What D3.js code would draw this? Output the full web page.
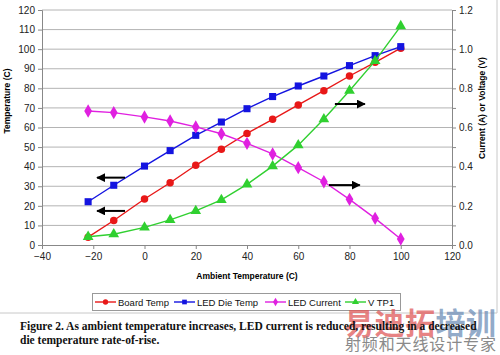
<!DOCTYPE html>
<html><head><meta charset="utf-8">
<script src="https://cdn.jsdelivr.net/npm/d3@7"></script>
<style>body{margin:0;background:#fff}svg{display:block}</style>
</head><body>
<script>
const ambient = [-22, -12, 0, 10, 20, 30, 40, 50, 60, 70, 80, 90, 100];
const boardTemp = [4, 12.5, 23.5, 31.8, 40.7, 48.9, 57, 64.2, 71.5, 78.8, 86.3, 93.3, 100.5];
const ledDieTemp = [22.1, 30.5, 40.3, 48.2, 56, 62.8, 69.6, 75.8, 81.2, 86.3, 91.6, 96.7, 101.3];
const ledCurrent = [0.684, 0.676, 0.654, 0.633, 0.603, 0.568, 0.519, 0.465, 0.395, 0.323, 0.233, 0.136, 0.031];
const vTP1 = [0.042, 0.055, 0.09, 0.128, 0.174, 0.23, 0.31, 0.403, 0.51, 0.643, 0.788, 0.94, 1.118];
const xTicks = [-40, -20, 0, 20, 40, 60, 80, 100, 120];
const yLeftTicks = [0, 10, 20, 30, 40, 50, 60, 70, 80, 90, 100, 110, 120];
const yRightTicks = [0, 0.2, 0.4, 0.6, 0.8, 1.0, 1.2];
const seriesNames = ["Board Temp", "LED Die Temp", "LED Current", "V TP1"];
// arrow annotations: [x1, x2, y] in ambient / left-axis units
const arrows = [[-7.6, -18.5, 34.4], [-7.6, -18.5, 17.4], [74.3, 86, 72], [72, 84, 30.6]];

const W = 500, H = 355;
const svg = d3.select("body").append("svg").attr("width", W).attr("height", H);
const L = 42, R = 452, T = 10, B = 245;
const x = d3.scaleLinear().domain([-40, 120]).range([L, R]);
const yL = d3.scaleLinear().domain([0, 120]).range([B, T]);
const yR = d3.scaleLinear().domain([0, 1.2]).range([B, T]);
const font = "Arial, 'Liberation Sans', sans-serif";

// frame lines
svg.append("line").attr("x1", 497).attr("x2", 497).attr("y1", 0).attr("y2", 313).attr("stroke", "#c8c8c8");
svg.append("line").attr("x1", 0).attr("x2", 497).attr("y1", 313).attr("y2", 313).attr("stroke", "#c8c8c8");

// gridlines
svg.append("g").selectAll("line").data(yLeftTicks.slice(1)).join("line")
  .attr("x1", L).attr("x2", R).attr("y1", d => yL(d)).attr("y2", d => yL(d))
  .attr("stroke", "#b4b4b4").attr("stroke-width", 1);

// axes
const gx = svg.append("g").attr("transform", `translate(0,${B})`)
  .call(d3.axisBottom(x).tickValues(xTicks).tickSize(4).tickPadding(4));
const gyl = svg.append("g").attr("transform", `translate(${L},0)`)
  .call(d3.axisLeft(yL).tickValues(yLeftTicks).tickSize(4).tickPadding(3));
const gyr = svg.append("g").attr("transform", `translate(${R},0)`)
  .call(d3.axisRight(yR).tickValues(d3.range(0, 13).map(i => i / 10)).tickSize(4).tickPadding(3)
    .tickFormat(d => yRightTicks.some(t => Math.abs(t - d) < 1e-9) ? d3.format(".1f")(d) : ""));
[gx, gyl, gyr].forEach(g => {
  g.select(".domain").attr("stroke", "#888");
  g.selectAll(".tick line").attr("stroke", "#888");
  g.selectAll("text").attr("font-family", font).attr("font-size", 10).attr("fill", "#222");
});

// axis titles
svg.append("text").attr("x", 247).attr("y", 279).attr("text-anchor", "middle")
  .attr("font-family", font).attr("font-size", 8.5).attr("font-weight", "bold").text("Ambient Temperature (C)");
svg.append("text").attr("transform", "translate(10,101) rotate(-90)").attr("text-anchor", "middle")
  .attr("font-family", font).attr("font-size", 8.5).attr("font-weight", "bold").text("Temperature (C)");
svg.append("text").attr("transform", "translate(485,108) rotate(-90)").attr("text-anchor", "middle")
  .attr("font-family", font).attr("font-size", 8.5).attr("font-weight", "bold").text("Current (A) or Voltage (V)");

const series = [
  {name: seriesNames[0], vals: boardTemp, y: yL, color: "#e81818", shape: d3.symbolCircle, size: 44},
  {name: seriesNames[1], vals: ledDieTemp, y: yL, color: "#1414e0", shape: d3.symbolSquare, size: 50},
  {name: seriesNames[2], vals: ledCurrent, y: yR, color: "#e020e0", shape: d3.symbolDiamond, size: 52},
  {name: seriesNames[3], vals: vTP1, y: yR, color: "#30d030", shape: d3.symbolTriangle, size: 50}
];

series.forEach(s => {
  const pts = ambient.map((a, i) => [x(a), s.y(s.vals[i])]);
  svg.append("path").attr("d", d3.line()(pts)).attr("fill", "none")
    .attr("stroke", s.color).attr("stroke-width", 1.4);
  svg.append("g").selectAll("path").data(pts).join("path")
    .attr("transform", d => `translate(${d[0]},${d[1]})`)
    .attr("d", d3.symbol().type(s.shape).size(s.size)).attr("fill", s.color);
});

// arrows
const defs = svg.append("defs");
defs.append("marker").attr("id", "ah").attr("viewBox", "0 0 10 10").attr("refX", 9).attr("refY", 5)
  .attr("markerWidth", 4.5).attr("markerHeight", 4.5).attr("orient", "auto")
  .append("path").attr("d", "M0,0L10,5L0,10z").attr("fill", "#000");
svg.append("g").selectAll("line").data(arrows).join("line")
  .attr("x1", d => x(d[0])).attr("x2", d => x(d[1])).attr("y1", d => yL(d[2])).attr("y2", d => yL(d[2]))
  .attr("stroke", "#000").attr("stroke-width", 2).attr("marker-end", "url(#ah)");

// legend
const lg = svg.append("g");
lg.append("rect").attr("x", 92.5).attr("y", 293.5).attr("width", 308).attr("height", 17)
  .attr("fill", "#fff").attr("stroke", "#999");
const legX = [95, 174, 265, 345];
series.forEach((s, i) => {
  const x0 = legX[i], yy = 302;
  lg.append("line").attr("x1", x0).attr("x2", x0 + 21).attr("y1", yy).attr("y2", yy)
    .attr("stroke", s.color).attr("stroke-width", 1.4);
  lg.append("path").attr("transform", `translate(${x0 + 10.5},${yy})`)
    .attr("d", d3.symbol().type(s.shape).size(22)).attr("fill", s.color);
  lg.append("text").attr("x", x0 + 23).attr("y", yy + 3.5).attr("font-family", font)
    .attr("font-size", 9.5).attr("fill", "#111").text(s.name);
});

// watermark
const wm = svg.append("g").attr("font-family", "'Noto Sans CJK SC', sans-serif");
const wmChars = ["易", "迪", "拓", "培", "训"];
wmChars.forEach((c, i) => {
  wm.append("text").attr("x", 344 + i * 30.5).attr("y", 334).attr("font-size", 30).attr("font-weight", "bold")
    .attr("fill", i < 3 ? "#e05a5a" : "#6f8fb8").attr("fill-opacity", 0.75).text(c);
});
wm.append("text").attr("x", 345).attr("y", 350).attr("font-size", 16).attr("fill", "#8a8a8a")
  .attr("textLength", 151).attr("lengthAdjust", "spacing").text("射频和天线设计专家");

// caption
const cap = svg.append("g").attr("font-family", "'Liberation Serif', 'Times New Roman', serif")
  .attr("font-weight", "bold").attr("font-size", 11.5).attr("fill", "#111");
cap.append("text").attr("x", 20).attr("y", 330)
  .text("Figure 2. As ambient temperature increases, LED current is reduced, resulting in a decreased");
cap.append("text").attr("x", 20).attr("y", 344).text("die temperature rate-of-rise.");
</script>
</body></html>
